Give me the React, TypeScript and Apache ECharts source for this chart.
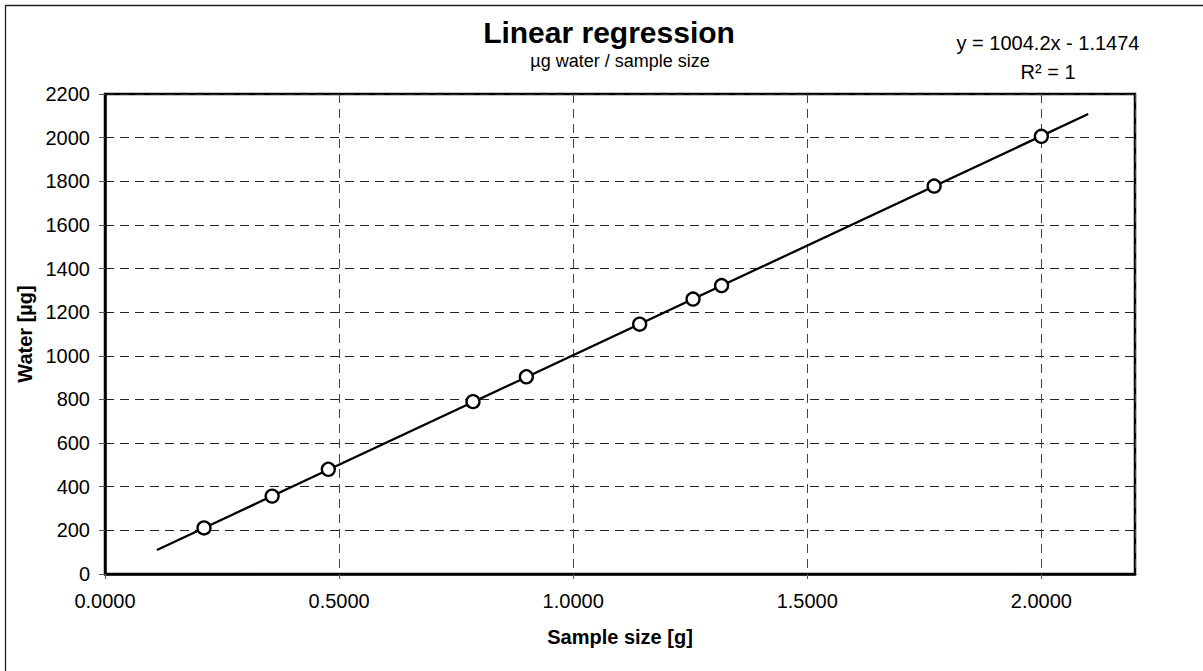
import React, { useEffect, useRef } from "react";
import * as echarts from "echarts";

// Measured sample points (sample size [g], water [µg])
const sampleSize = [0.2115, 0.357, 0.477, 0.786, 0.9, 1.142, 1.256, 1.317, 1.771, 2.0];
const waterUg = [211, 357, 480, 790, 904, 1145, 1260, 1322, 1778, 2006];

// Trendline end points
const trendX = [0.111, 2.1];
const trendY = [110, 2108];

const titleText = "Linear regression";
const subtitleText = "µg water / sample size";
const equationText = "y = 1004.2x - 1.1474";
const r2Text = "R² = 1";
const xName = "Sample size [g]";
const yName = "Water [µg]";

const FONT = '"Liberation Sans", Arial, Helvetica, sans-serif';

export default function App() {
  const ref = useRef<HTMLDivElement>(null);
  useEffect(() => {
    if (!ref.current) return;
    const chart = echarts.init(ref.current, null, { renderer: "svg" });
    const points = sampleSize.map((x, i) => [x, waterUg[i]]);
    const trend = trendX.map((x, i) => [x, trendY[i]]);
    chart.setOption({
      animation: false,
      backgroundColor: "#fff",
      textStyle: { fontFamily: FONT },
      grid: {
        left: 105,
        right: 68,
        top: 94,
        bottom: 97,
        show: true,
        borderColor: "#000",
        borderWidth: 2.5,
        backgroundColor: "transparent",
      },
      xAxis: {
        type: "value",
        min: 0,
        max: 2.2,
        interval: 0.5,
        name: xName,
        nameLocation: "middle",
        nameGap: 53,
        nameTextStyle: { fontSize: 20, fontWeight: "bold", color: "#000", fontFamily: FONT },
        axisLine: { show: true, onZero: false, lineStyle: { color: "#000", width: 2.5 } },
        axisTick: { show: true, length: 5, lineStyle: { color: "#555" } },
        axisLabel: {
          fontSize: 20,
          color: "#000",
          margin: 17,
          fontFamily: FONT,
          showMaxLabel: false,
          formatter: (v: number) =>
            Math.abs(v / 0.5 - Math.round(v / 0.5)) < 1e-9 ? v.toFixed(4) : "",
        },
        splitLine: { show: true, lineStyle: { type: [9, 6], color: "#444", width: 1 } },
      },
      yAxis: {
        type: "value",
        min: 0,
        max: 2200,
        interval: 200,
        name: yName,
        nameLocation: "middle",
        nameGap: 70,
        nameTextStyle: { fontSize: 20, fontWeight: "bold", color: "#000", fontFamily: FONT },
        axisLine: { show: true, onZero: false, lineStyle: { color: "#000", width: 2.5 } },
        axisTick: { show: true, length: 6, lineStyle: { color: "#555" } },
        axisLabel: {
          fontSize: 20,
          color: "#000",
          margin: 15,
          fontFamily: FONT,
          formatter: (v: number) => String(Math.round(v)),
        },
        splitLine: { show: true, lineStyle: { type: [9, 6], color: "#222", width: 1 } },
      },
      series: [
        {
          type: "line",
          data: trend,
          showSymbol: false,
          symbol: "none",
          lineStyle: { color: "#000", width: 2.3 },
          z: 2,
        },
        {
          type: "scatter",
          data: points,
          symbol: "circle",
          symbolSize: 13,
          itemStyle: { color: "#fff", borderColor: "#000", borderWidth: 2.3, opacity: 1 },
          z: 3,
        },
      ],
      graphic: [
        {
          type: "rect",
          silent: true,
          shape: { x: 5.5, y: 5.5, width: 1400, height: 900 },
          style: { fill: "none", stroke: "#222", lineWidth: 1.3 },
        },
        {
          type: "text",
          x: 609,
          y: 32,
          style: {
            text: titleText,
            font: `bold 30px ${FONT}`,
            fill: "#000",
            align: "center",
            verticalAlign: "middle",
            textAlign: "center",
            textVerticalAlign: "middle",
          },
        },
        {
          type: "text",
          x: 620,
          y: 61,
          style: {
            text: subtitleText,
            font: `18px ${FONT}`,
            fill: "#000",
            align: "center",
            verticalAlign: "middle",
            textAlign: "center",
            textVerticalAlign: "middle",
          },
        },
        {
          type: "text",
          x: 1048,
          y: 43,
          style: {
            text: equationText,
            font: `20px ${FONT}`,
            fill: "#000",
            align: "center",
            verticalAlign: "middle",
            textAlign: "center",
            textVerticalAlign: "middle",
          },
        },
        {
          type: "text",
          x: 1048,
          y: 71.5,
          style: {
            text: r2Text,
            font: `20px ${FONT}`,
            fill: "#000",
            align: "center",
            verticalAlign: "middle",
            textAlign: "center",
            textVerticalAlign: "middle",
          },
        },
      ],
    });
    return () => chart.dispose();
  }, []);
  return (
    <div
      ref={ref}
      style={{ position: "absolute", left: 0, top: 0, width: 1203, height: 671, background: "#fff" }}
    />
  );
}
